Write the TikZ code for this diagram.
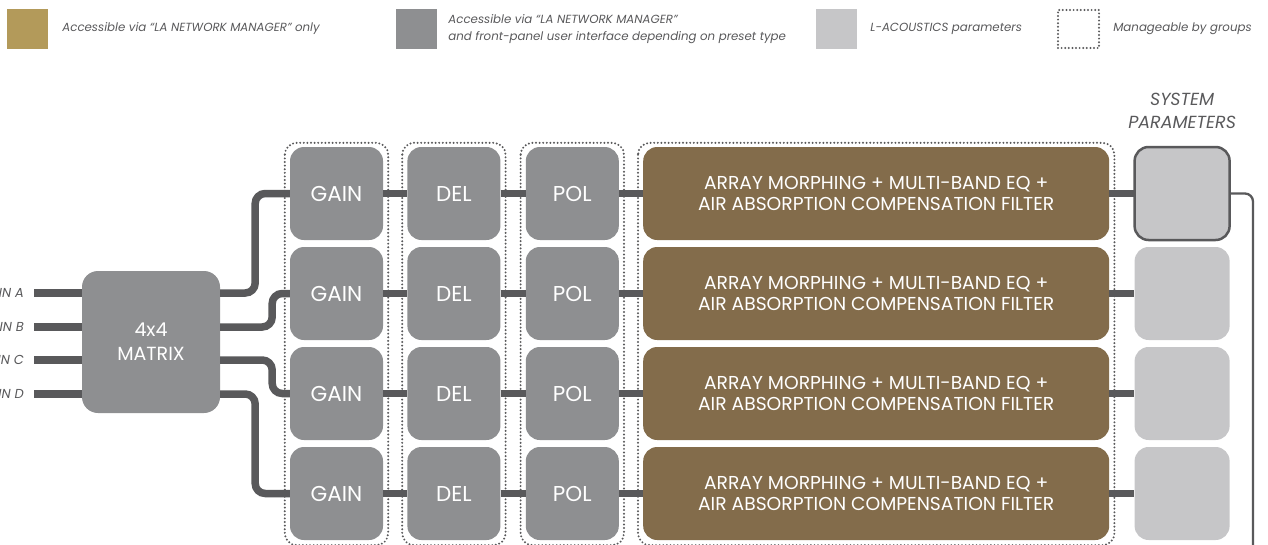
\documentclass[tikz,border=0pt]{standalone}
\usepackage{fontspec}
\setmainfont{Poppins}
\usetikzlibrary{positioning}
\definecolor{lagold}{HTML}{B39A5A}
\definecolor{labrown}{HTML}{836C4B}
\definecolor{ladark}{HTML}{8E8F91}
\definecolor{lalight}{HTML}{C6C6C8}
\definecolor{laline}{HTML}{59595B}
\tikzset{
  blk/.style={rounded corners=14pt, fill=ladark, text=white, minimum width=93pt,
    minimum height=93pt, inner sep=0pt, align=center, font=\fontsize{21.5}{24}\selectfont},
  morph/.style={blk, fill=labrown, minimum width=466pt, font=\fontsize{18.7}{20.5}\selectfont},
  sysbox/.style={rounded corners=14pt, fill=lalight, minimum width=95pt, minimum height=93pt, inner sep=0pt},
  wire/.style={line width=7.5pt, laline},
  dots/.style={draw=laline, line width=2.2pt, line cap=round, dash pattern=on 0pt off 3.6pt},
  grp/.style={dots, rounded corners=12pt},
  legsq/.style={minimum width=41pt, minimum height=40pt, inner sep=0pt},
  legtxt/.style={font=\fontsize{11.8}{17}\selectfont\itshape, text=laline, anchor=west, align=left, inner sep=0pt},
  intxt/.style={font=\fontsize{13}{15}\selectfont\itshape, text=laline, anchor=east, inner sep=0pt},
}
\begin{document}
\begin{tikzpicture}[x=1pt,y=-1pt]
  \useasboundingbox (0,0) rectangle (1268,544);
  % legend
  \node[legsq, fill=lagold] (leggold) at (27.5,29) {};
  \node[legtxt, right=14pt of leggold] (txtgold) {Accessible via “LA NETWORK MANAGER” only};
  \node[legsq, fill=ladark] (legdark) at (416.5,29) {};
  \node[legtxt, right=11pt of legdark] (txtdark) {Accessible via “LA NETWORK MANAGER”\\and front-panel user interface depending on preset type};
  \node[legsq, fill=lalight] (leglight) at (836.5,29) {};
  \node[legtxt, right=13pt of leglight] (txtlight) {L-ACOUSTICS parameters};
  \node[legsq, dots, minimum width=41pt, minimum height=38pt] (leggrp) at (1078.5,29) {};
  \node[legtxt, right=13pt of leggrp] (txtgrp) {Manageable by groups};

  % matrix and inputs
  \node[blk, minimum width=138pt, minimum height=142pt, rounded corners=16pt,
    font=\fontsize{19}{24}\selectfont] (matrix) at (151,342) {4x4\\MATRIX};
  \foreach \n/\y in {A/293,B/327,C/360,D/394} {
    \coordinate (in\n) at (34,\y);
    \node[intxt] (lbl\n) at (24,\y) {IN \n};
    \draw[wire] (in\n) -- (in\n -| matrix.west);
  }

  % four output chains
  \foreach \r/\y in {1/193.5,2/293.5,3/393.5,4/493.5} {
    \node[blk] (gain\r) at (336.5,\y) {GAIN};
    \node[blk, right=24pt of gain\r] (del\r) {DEL};
    \node[blk, right=25pt of del\r] (pol\r) {POL};
    \node[morph, right=24pt of pol\r] (morph\r) {ARRAY MORPHING + MULTI-BAND EQ +\\AIR ABSORPTION COMPENSATION FILTER};
    \node[sysbox, right=25pt of morph\r] (sys\r) {};
    \draw[wire] (gain\r) -- (del\r);
    \draw[wire] (del\r) -- (pol\r);
    \draw[wire] (pol\r) -- (morph\r);
    \draw[wire] (morph\r) -- (sys\r);
  }
  \node[sysbox, draw=laline, line width=2.5pt] at (sys1) {};
  \node[font=\fontsize{17.5}{23}\selectfont\itshape, text=laline, align=center,
    inner sep=0pt, above=18pt of sys1] (systxt) {SYSTEM\\PARAMETERS};

  % matrix to gains
  \draw[wire, rounded corners=10pt] (inA -| matrix.east) -- ++(35,0) |- (gain1.west);
  \draw[wire, rounded corners=10pt] (inB -| matrix.east) -- ++(52,0) |- (gain2.west);
  \draw[wire, rounded corners=10pt] (inC -| matrix.east) -- ++(52,0) |- (gain3.west);
  \draw[wire, rounded corners=10pt] (inD -| matrix.east) -- ++(35,0) |- (gain4.west);

  % system link
  \coordinate (sysend) at (1253,560);
  \draw[laline, line width=2.3pt, rounded corners=8pt] (sys1.east) -| (sysend);

  % groups
  \foreach \g in {gain,del,pol,morph}
    \draw[grp] ([shift={(-5,-4)}]\g1.north west) rectangle ([shift={(5,5)}]\g4.south east);
\end{tikzpicture}
\end{document}
